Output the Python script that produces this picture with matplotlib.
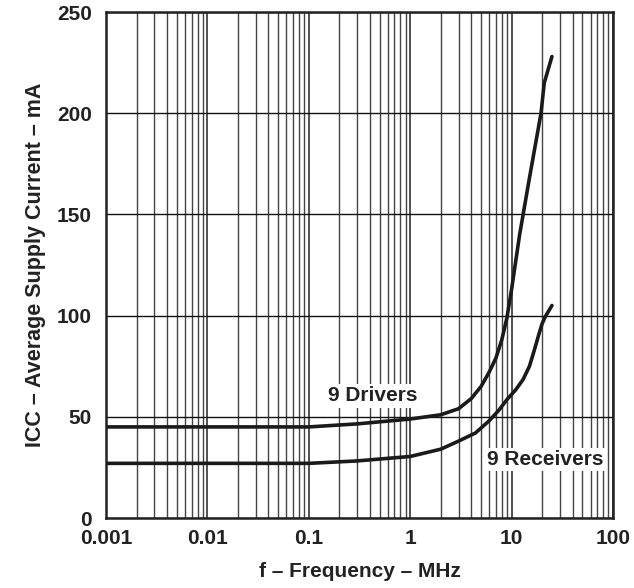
import matplotlib
matplotlib.use('Agg')
import matplotlib.pyplot as plt
import numpy as np
from matplotlib.ticker import LogLocator, NullFormatter

plt.rcParams['font.family'] = ['Liberation Sans', 'DejaVu Sans']
plt.rcParams['font.weight'] = 'bold'

# curves (frequency in MHz, current in mA)
drv_freq = [0.001, 0.01, 0.1, 0.3, 1, 2, 3, 4, 5, 6, 7, 8, 9, 10, 12, 15, 19.5, 21, 25]
drv_icc = [45, 45, 45, 46.5, 48.9, 51, 54, 59, 65, 72, 79, 88, 99, 113, 140, 168, 200, 215, 228]

rcv_freq = [0.001, 0.01, 0.1, 0.3, 1, 2, 3, 4.4, 6, 7.5, 9, 11, 13, 15, 17, 18.5, 20, 21.5, 25]
rcv_icc = [27, 27, 27, 28.2, 30.4, 34, 38, 42, 48, 53.3, 58.5, 63.4, 68.5, 75, 84, 90.5, 96, 99.5, 105]

x_ticks = [0.001, 0.01, 0.1, 1, 10, 100]
x_labels = ['0.001', '0.01', '0.1', '1', '10', '100']
y_ticks = [0, 50, 100, 150, 200, 250]

txt = '#222222'
fs = 15

fig = plt.figure(figsize=(6.34, 5.88), dpi=100)
ax = fig.add_axes([106/634, 70/588, 507/634, 506/588])

ax.set_xscale('log')
ax.set_xlim(0.001, 100)
ax.set_ylim(0, 250)

ax.set_xticks(x_ticks)
ax.set_xticklabels(x_labels)
ax.xaxis.set_minor_locator(LogLocator(base=10, subs=np.arange(2, 10)))
ax.xaxis.set_minor_formatter(NullFormatter())
ax.set_yticks(y_ticks)

ax.grid(which='major', axis='x', color='#222222', linewidth=1.1)
ax.grid(which='minor', axis='x', color='#444444', linewidth=1.0)
ax.grid(which='major', axis='y', color='#111111', linewidth=1.0)
ax.set_axisbelow(True)

ax.tick_params(which='both', length=0)
ax.tick_params(axis='x', pad=8, labelsize=fs, labelcolor=txt)
ax.tick_params(axis='y', pad=10, labelsize=fs, labelcolor=txt)

for s in ax.spines.values():
    s.set_linewidth(1.8)
    s.set_color('#222222')

ax.plot(drv_freq, drv_icc, color='#1a1a1a', linewidth=2.6, solid_capstyle='round')
ax.plot(rcv_freq, rcv_icc, color='#1a1a1a', linewidth=2.6, solid_capstyle='round')

box = dict(facecolor='white', edgecolor='none', pad=1.5)
ax.text(0.425, 60.3, '9 Drivers', ha='center', va='center', fontsize=fs,
        fontweight='bold', color=txt, bbox=box)
ax.text(21.3, 29.1, '9 Receivers', ha='center', va='center', fontsize=fs,
        fontweight='bold', color=txt, bbox=box)

ax.set_xlabel('f \u2013 Frequency \u2013 MHz', fontsize=fs, fontweight='bold',
              color=txt, labelpad=10)
ax.set_ylabel('ICC \u2013 Average Supply Current \u2013 mA', fontsize=15.5,
              fontweight='bold', color=txt, labelpad=8)

fig.savefig('out.png', dpi=100)
